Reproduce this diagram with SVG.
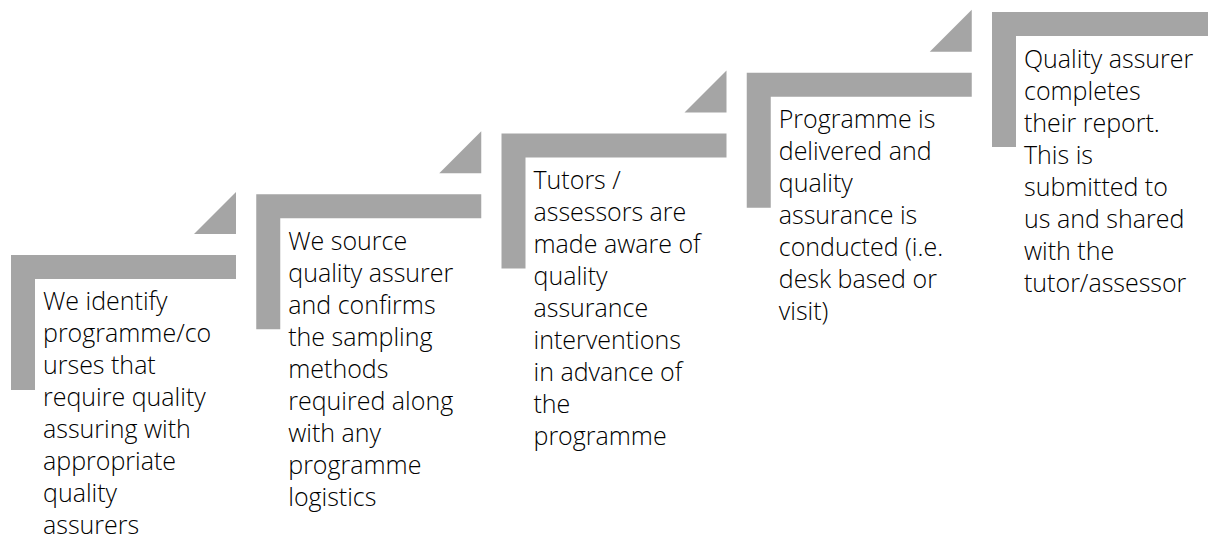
<svg xmlns="http://www.w3.org/2000/svg" width="1208" height="537" viewBox="0 0 1208 537">
<style>
.bar{fill:#A5A5A5;}
.tri{fill:#A5A5A5;}
.t{font-family:"Open Sans","Noto Sans","Liberation Sans",sans-serif;font-weight:350;font-size:25px;fill:#000;}
</style>
<rect width="1208" height="537" fill="#fff"/>
<g id="connectors">
<polygon class="tri" points="236,192 236,234 194,234"/>
<polygon class="tri" points="481.25,131.25 481.25,173.25 439.25,173.25"/>
<polygon class="tri" points="726.5,70.5 726.5,112.5 684.5,112.5"/>
<polygon class="tri" points="971.75,9.75 971.75,51.75 929.75,51.75"/>
</g>
<g id="step1">
<path class="bar" d="M11,255 h225 v24 h-201 v111 h-24 z"/>
<text class="t" x="43" y="310">
<tspan x="43" dy="0">We identify</tspan>
<tspan x="43" dy="32">programme/co</tspan>
<tspan x="43" dy="32">urses that</tspan>
<tspan x="43" dy="32">require quality</tspan>
<tspan x="43" dy="32">assuring with</tspan>
<tspan x="43" dy="32">appropriate</tspan>
<tspan x="43" dy="32">quality</tspan>
<tspan x="43" dy="32">assurers</tspan>
</text>
</g>
<g id="step2">
<path class="bar" d="M256.25,194.25 h225 v24 h-201 v111 h-24 z"/>
<text class="t" x="288.25" y="249.75">
<tspan x="288.25" dy="0">We source</tspan>
<tspan x="288.25" dy="32">quality assurer</tspan>
<tspan x="288.25" dy="32">and confirms</tspan>
<tspan x="288.25" dy="32">the sampling</tspan>
<tspan x="288.25" dy="32">methods</tspan>
<tspan x="288.25" dy="32">required along</tspan>
<tspan x="288.25" dy="32">with any</tspan>
<tspan x="288.25" dy="32">programme</tspan>
<tspan x="288.25" dy="32">logistics</tspan>
</text>
</g>
<g id="step3">
<path class="bar" d="M501.5,133.5 h225 v24 h-201 v111 h-24 z"/>
<text class="t" x="533.5" y="189">
<tspan x="533.5" dy="0">Tutors /</tspan>
<tspan x="533.5" dy="32">assessors are</tspan>
<tspan x="533.5" dy="32">made aware of</tspan>
<tspan x="533.5" dy="32">quality</tspan>
<tspan x="533.5" dy="32">assurance</tspan>
<tspan x="533.5" dy="32">interventions</tspan>
<tspan x="533.5" dy="32">in advance of</tspan>
<tspan x="533.5" dy="32">the</tspan>
<tspan x="533.5" dy="32">programme</tspan>
</text>
</g>
<g id="step4">
<path class="bar" d="M746.75,72.75 h225 v24 h-201 v111 h-24 z"/>
<text class="t" x="778.75" y="128.25">
<tspan x="778.75" dy="0">Programme is</tspan>
<tspan x="778.75" dy="32">delivered and</tspan>
<tspan x="778.75" dy="32">quality</tspan>
<tspan x="778.75" dy="32">assurance is</tspan>
<tspan x="778.75" dy="32">conducted (i.e.</tspan>
<tspan x="778.75" dy="32">desk based or</tspan>
<tspan x="778.75" dy="32">visit)</tspan>
</text>
</g>
<g id="step5">
<path class="bar" d="M992,12 h225 v24 h-201 v111 h-24 z"/>
<text class="t" x="1024" y="67.5">
<tspan x="1024" dy="0">Quality assurer</tspan>
<tspan x="1024" dy="32">completes</tspan>
<tspan x="1024" dy="32">their report.</tspan>
<tspan x="1024" dy="32">This is</tspan>
<tspan x="1024" dy="32">submitted to</tspan>
<tspan x="1024" dy="32">us and shared</tspan>
<tspan x="1024" dy="32">with the</tspan>
<tspan x="1024" dy="32">tutor/assessor</tspan>
</text>
</g>
</svg>
